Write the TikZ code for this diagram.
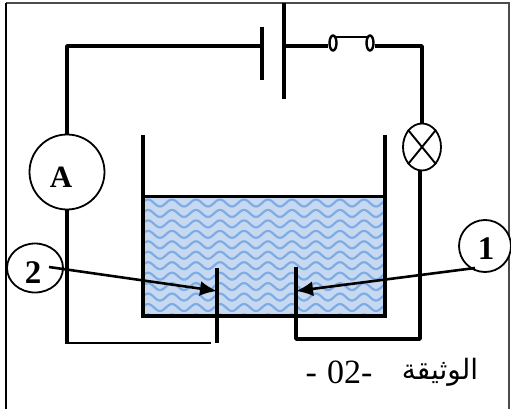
\documentclass[tikz,border=0pt]{standalone}
\usepackage{fontspec}
\setmainfont{Liberation Serif}
\newfontfamily\arabicfont[Script=Arabic]{DejaVu Sans}
\TeXXeTstate=1
\usetikzlibrary{arrows.meta,shapes.geometric}
\definecolor{waterfill}{HTML}{C6D9F1}
\definecolor{wavecol}{HTML}{7FACE4}
\tikzset{
  wire/.style={line width=3.6pt,line join=round,line cap=butt},
  thinwire/.style={line width=1.9pt},
  wall/.style={line width=4.4pt,line join=miter},
  ring/.style={draw,line width=1.8pt,circle,inner sep=0pt,fill=white},
  tag/.style={font=\fontsize{33}{33}\selectfont\bfseries,inner sep=0pt},
  pointer/.style={line width=2.6pt,-{Latex[length=17pt,width=15pt]}},
  contact/.style={draw,line width=2.4pt,ellipse,fill=white,minimum width=7pt,minimum height=15pt,inner sep=0pt},
  caption/.style={font=\fontsize{34}{34}\selectfont,inner sep=0pt},
}
\begin{document}
\begin{tikzpicture}[x=1pt,y=-1pt]
\useasboundingbox (0,0) rectangle (511,409);
\fill[white] (0,0) rectangle (511,409);
% water
\fill[waterfill] (143,196) rectangle (385,316);
\begin{scope}
\clip (143,196) rectangle (385,316);
\foreach \r in {0,...,11}{
  \draw[wavecol,line width=2.2pt,line join=round] plot[domain=130:400,samples=181] (\x,{203+\r*10.45+3.5*sin((\x-130)/24*360)});
}
\end{scope}
% frame
\draw[line width=1.6pt,black!70] (6,3) -- (509,3) -- (509,409);
\draw[line width=1.6pt,black] (6,3) -- (6,409);
% tank
\draw[wall] (143,135) -- (143,316) -- (385,316) -- (385,135);
\draw[line width=3pt] (143,196) -- (385,196);
% components
\node[ring,minimum size=75pt] (A) at (67,172) {};
\node[font=\fontsize{31}{31}\selectfont\bfseries,inner sep=0pt] at (61,177) {A};
\node[ring,ellipse,minimum width=38pt,minimum height=47pt] (L) at (422,147) {};
\draw[line width=1.9pt] (L.north west) -- (L.south east) (L.north east) -- (L.south west);
\coordinate (pa1) at (262,27); \coordinate (pa2) at (262,80);
\coordinate (pb1) at (284,3); \coordinate (pb2) at (284,99);
\coordinate (pac) at (262,46); \coordinate (pbc) at (284,46);
\node[contact] (s1) at (333,43) {};
\node[contact] (s2) at (370,43) {};
\coordinate (tr) at (422,46);
\coordinate (br) at (420,339);
\coordinate (bl) at (67,343);
\coordinate (e1t) at (296,267); \coordinate (e1b) at (296,339);
\coordinate (e2t) at (217,268); \coordinate (e2b) at (217,343);
\coordinate (e2w) at (211,343);
% wires
\draw[wire] (pa1) -- (pa2);
\draw[wire] (pb1) -- (pb2);
\draw[wire] (A.north) |- (pac);
\draw[wire] (pbc) -- (pbc -| s1.west);
\draw[wire] (pbc -| s2.east) -- (tr) -- (L.north);
\draw[wire] (L.south -| br) -- (br) -- (e1b) -- (e1t);
\draw[wire] (A.south) -- (bl);
\draw[thinwire] (65.3,343) -- (e2w);
\draw[wire] (e2t) -- (e2b);
\draw[line width=1.6pt] (s1.north east) -- (s2.north west);
% tags
\node[ring,ellipse,minimum width=56pt,minimum height=49pt] (n2) at (35,268) {};
\node[tag] at (33,273) {2};
\node[ring,minimum size=52pt] (n1) at (485,246) {};
\node[tag] at (486,249) {1};
\coordinate (a2) at (49,267);
\coordinate (a1) at (475,268);
\draw[pointer] (a2) -- (e2t |- 0,291);
\draw[pointer] (a1) -- (e1t |- 0,291);
% caption
\node[caption] (capnum) at (339,372) {-\hspace{10pt}02-};
\node[caption,font=\fontsize{28}{28}\selectfont\arabicfont] (capar) at (440,372) {\beginR الوثيقة\endR};
\end{tikzpicture}
\end{document}
